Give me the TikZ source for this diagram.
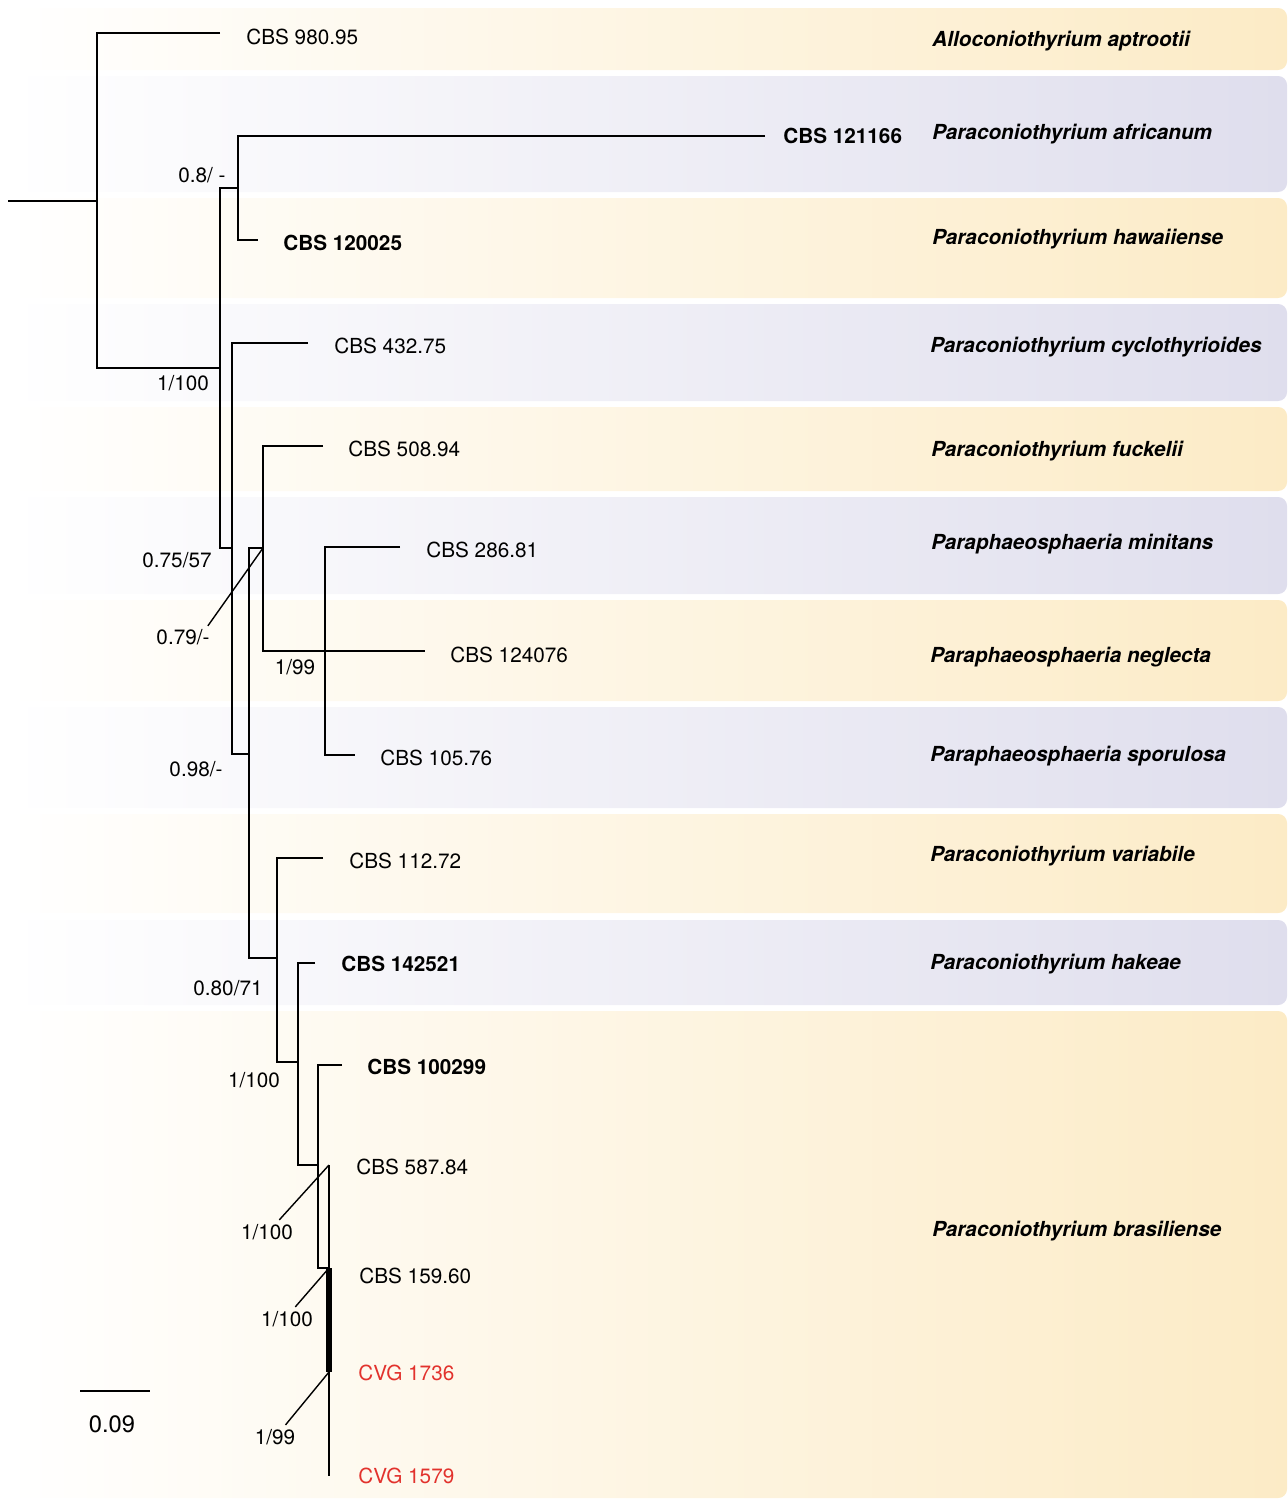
\documentclass[tikz,border=0pt]{standalone}
\usepackage{fontspec}
\setmainfont{TeX Gyre Heros}
\definecolor{bandY}{RGB}{252,235,198}
\definecolor{bandL}{RGB}{223,222,237}
\definecolor{cvgred}{RGB}{226,50,45}
\tikzset{
  branch/.style={line width=1.5pt},
  leader/.style={line width=0.8pt},
  tiplab/.style={anchor=west},
  typelab/.style={anchor=west, font=\fontsize{11.8}{14}\selectfont\bfseries},
  species/.style={anchor=west, font=\fontsize{11.8}{14}\selectfont\bfseries\itshape},
  newlab/.style={anchor=west, text=cvgred}
}
\begin{document}
\begin{tikzpicture}[x=0.02cm,y=-0.02cm,
  every node/.style={font=\fontsize{11.8}{14}\selectfont, inner sep=0pt}]
\useasboundingbox (0,0) rectangle (1288,1501);

% species bands
\foreach \ya/\yb/\col in {8/70/bandY, 76/192/bandL, 198/298/bandY, 304/401/bandL,
    407/491/bandY, 497/594/bandL, 600/701/bandY, 707/808/bandL,
    814/913/bandY, 920/1005/bandL, 1011/1498/bandY}
  \shade[rounded corners=5pt, left color=white, middle color=\col!60!white, right color=\col]
    (8,\ya) rectangle (1287,\yb);

% tree vertices
\coordinate (r0) at (8,201);
\coordinate (n1) at (97,201);
\coordinate (n2) at (220,368);
\coordinate (n3) at (238,188);
\coordinate (n4) at (232,548);
\coordinate (n5) at (249,754);
\coordinate (n6) at (263,548);
\coordinate (n7) at (325,651);
\coordinate (n8) at (277,958);
\coordinate (n9) at (298,1062);
\coordinate (n10) at (318,1165);
\coordinate (n11) at (329,1268);
\coordinate (n12) at (329,1372);

% tips
\coordinate (t1) at (220,33);
\coordinate (t2) at (765,136);
\coordinate (t3) at (258,240);
\coordinate (t4) at (308,343);
\coordinate (t5) at (323,446);
\coordinate (t6) at (400,547);
\coordinate (t7) at (425,651);
\coordinate (t8) at (355,755);
\coordinate (t9) at (323,858);
\coordinate (t10) at (315,963);
\coordinate (t11) at (342,1065);
\coordinate (t12) at (329,1165);
\coordinate (t13) at (329,1476);

% strain labels
\node[tiplab] (l1) at (246,37) {CBS 980.95};
\node[typelab] (l2) at (783,136) {CBS 121166};
\node[typelab] (l3) at (283,243) {CBS 120025};
\node[tiplab] (l4) at (334,346) {CBS 432.75};
\node[tiplab] (l5) at (348,449) {CBS 508.94};
\node[tiplab] (l6) at (426,550) {CBS 286.81};
\node[tiplab] (l7) at (450,655) {CBS 124076};
\node[tiplab] (l8) at (380,758) {CBS 105.76};
\node[tiplab] (l9) at (349,861) {CBS 112.72};
\node[typelab] (l10) at (341,964) {CBS 142521};
\node[typelab] (l11) at (367,1067) {CBS 100299};
\node[tiplab] (l12) at (356,1167) {CBS 587.84};
\node[tiplab] (l13) at (359,1276) {CBS 159.60};
\node[newlab] (l14) at (358,1373) {CVG 1736};
\node[newlab] (l15) at (358,1476) {CVG 1579};

% species names
\node[species] (s1) at (932,41) {Alloconiothyrium aptrootii};
\node[species] (s2) at (932,134) {Paraconiothyrium africanum};
\node[species] (s3) at (932,239) {Paraconiothyrium hawaiiense};
\node[species] (s4) at (930,347) {Paraconiothyrium cyclothyrioides};
\node[species] (s5) at (931,451) {Paraconiothyrium fuckelii};
\node[species] (s6) at (931,544) {Paraphaeosphaeria minitans};
\node[species] (s7) at (930,657) {Paraphaeosphaeria neglecta};
\node[species] (s8) at (930,756) {Paraphaeosphaeria sporulosa};
\node[species] (s9) at (930,856) {Paraconiothyrium variabile};
\node[species] (s10) at (930,964) {Paraconiothyrium hakeae};
\node[species] (s11) at (932,1231) {Paraconiothyrium brasiliense};

% branches
\draw[branch] (r0) -- (n1);
\draw[branch] (t1) -| (n1) |- (n2);
\draw[branch] (n3) -| (n2) |- (n4);
\draw[branch] (t2) -| (n3) |- (t3);
\draw[branch] (t4) -| (n4) |- (n5);
\draw[branch] (n6) -| (n5) |- (n8);
\draw[branch] (t5) -| (n6) |- (t7);
\draw[branch] (t6) -| (n7) |- (t8);
\draw[branch] (t9) -| (n8) |- (n9);
\draw[branch] (t10) -| (n9) |- (n10);
\draw[branch] (t11) -| (n10) |- (n11);
\draw[branch] (t12) -- (n11);
\draw[line width=3pt] (n11) -- (n12);
\draw[branch] (n12) -- (t13);

% support values
\node (p1) at (202,175) {0.8/ -};
\node (p2) at (183,383) {1/100};
\node (p3) at (177,560) {0.75/57};
\node (p4) at (183,637) {0.79/-};
\node (p5) at (295,667) {1/99};
\node (p6) at (196,769) {0.98/-};
\node (p7) at (228,988) {0.80/71};
\node (p8) at (254,1080) {1/100};
\node (p9) at (267,1232) {1/100};
\node (p10) at (287,1319) {1/100};
\node (p11) at (275,1437) {1/99};

\draw[leader] (p4.north east) ++(-2,-3) -- (n6);
\draw[leader] (p9.north east) ++(-14,-4) -- (t12);
\draw[leader] (p10.north east) ++(-18,-4) -- (n11);
\draw[leader] (p11.north east) ++(-10,-4) -- (n12);

% scale bar
\coordinate (sb0) at (80,1391);
\coordinate (sb1) at (150,1391);
\draw[branch] (sb0) -- (sb1);
\node[font=\fontsize{13.5}{16}\selectfont] (sbl) at (112,1424) {0.09};
\end{tikzpicture}
\end{document}
